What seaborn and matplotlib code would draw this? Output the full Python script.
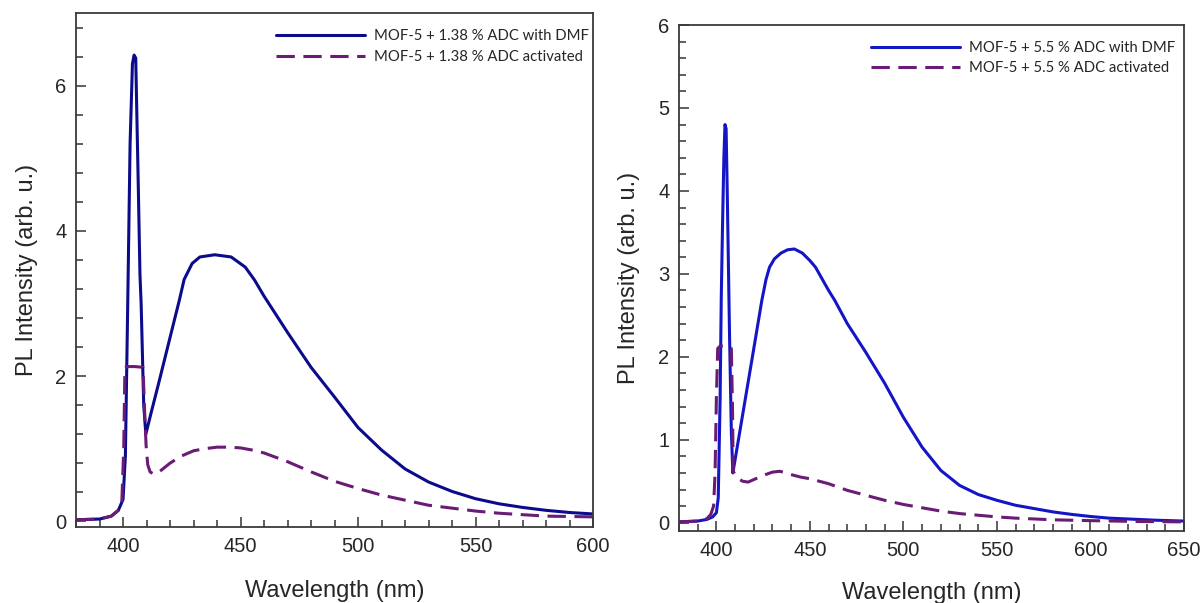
import numpy as np
import pandas as pd
import matplotlib
matplotlib.use("Agg")
import matplotlib.pyplot as plt
from matplotlib.ticker import MultipleLocator
import seaborn as sns

# %% Data (wavelength in nm, PL intensity in arb. u.)
# left panel : MOF-5 + 1.38 % ADC
wl_dmf_a = [380, 390, 395, 398, 400, 401, 402, 403, 404, 404.7, 405.4, 406, 406.5,
            407.2, 407.7, 408.8, 409.7, 412, 415, 420, 424, 426, 429.4, 432.7, 439,
            446, 452, 456, 460, 465, 470, 480, 490, 500, 510, 520, 530, 540, 550,
            560, 570, 580, 590, 600]
dmf_a = [0.02, 0.03, 0.07, 0.15, 0.30, 0.9, 3.0, 5.2, 6.3, 6.42, 6.38, 5.4, 4.6,
         3.4, 3.0, 1.6, 1.2, 1.5, 1.88, 2.53, 3.05, 3.33, 3.55, 3.64, 3.67,
         3.64, 3.5, 3.32, 3.1, 2.85, 2.6, 2.12, 1.71, 1.29, 0.98, 0.72, 0.54,
         0.41, 0.31, 0.24, 0.19, 0.15, 0.12, 0.10]

wl_act_a = [380, 390, 395, 398, 399.5, 400.3, 400.8, 401.5, 405, 408.5, 409.2, 409.8,
            410.5, 411.5, 413, 415, 420, 425, 430, 435, 440, 445, 450, 455, 460,
            470, 480, 490, 500, 510, 520, 530, 540, 550, 560, 570, 580, 590, 600]
act_a = [0.02, 0.03, 0.07, 0.15, 0.28, 1.0, 2.1, 2.13, 2.13, 2.12, 1.5, 1.05,
         0.78, 0.68, 0.65, 0.67, 0.80, 0.90, 0.97, 1.0, 1.02, 1.02, 1.01, 0.98,
         0.94, 0.82, 0.68, 0.55, 0.45, 0.36, 0.29, 0.22, 0.18, 0.14, 0.11, 0.09,
         0.07, 0.065, 0.06]

# right panel : MOF-5 + 5.5 % ADC
wl_dmf_b = [380, 390, 395, 398, 400, 401, 402, 402.6, 403.3, 404, 404.6, 405.2,
            405.8, 406.3, 407, 408, 408.8, 410, 415, 420, 424.3, 426.5, 428.4, 431,
            434.5, 438, 441.7, 446, 450, 453, 457, 460, 463.3, 470, 480, 490, 500,
            510, 520, 530, 540, 550, 560, 570, 580, 590, 600, 610, 620, 635, 650]
dmf_b = [0.01, 0.02, 0.04, 0.07, 0.12, 0.3, 1.5, 2.7, 3.6, 4.4, 4.8, 4.75,
         4.0, 3.3, 2.3, 1.1, 0.6, 0.76, 1.43, 2.1, 2.68, 2.93, 3.08, 3.18,
         3.25, 3.29, 3.30, 3.25, 3.16, 3.08, 2.92, 2.8, 2.68, 2.4, 2.05, 1.68,
         1.27, 0.91, 0.63, 0.45, 0.34, 0.27, 0.21, 0.17, 0.13, 0.10, 0.075,
         0.055, 0.045, 0.03, 0.02]

wl_act_b = [380, 390, 395, 397, 398.5, 399.3, 400, 400.7, 402, 405, 408, 408.6, 409,
            410, 412, 414, 417, 420, 425, 430, 434, 440, 445, 450, 460, 470, 480,
            490, 500, 510, 520, 530, 540, 550, 560, 570, 580, 600, 625, 650]
act_b = [0.01, 0.02, 0.05, 0.1, 0.2, 0.6, 1.5, 2.1, 2.13, 2.13, 2.1, 1.4, 0.62,
         0.58, 0.53, 0.5, 0.49, 0.52, 0.57, 0.61, 0.62, 0.58, 0.55, 0.53, 0.47,
         0.39, 0.33, 0.27, 0.22, 0.18, 0.14, 0.11, 0.09, 0.07, 0.055, 0.045,
         0.035, 0.025, 0.015, 0.01]

labels_a = ["MOF-5 + 1.38 % ADC with DMF", "MOF-5 + 1.38 % ADC activated"]
labels_b = ["MOF-5 + 5.5 % ADC with DMF", "MOF-5 + 5.5 % ADC activated"]

# %% Style
sns.set_style("ticks")
plt.rcParams["font.family"] = ["Liberation Sans", "DejaVu Sans"]

PURPLE = "#6a1b75"
DASH = (0, (6, 2.8))

fig = plt.figure(figsize=(12.03, 6.03), dpi=100)
ax1 = fig.add_axes([0.0632, 0.1260, 0.4298, 0.8524])
ax2 = fig.add_axes([0.5644, 0.1194, 0.4198, 0.8391])

panels = [
    (ax1, wl_dmf_a, dmf_a, wl_act_a, act_a, labels_a, "#0b0b8c",
     (380, 600), (-0.08, 7.0), 2, 0.4, (0.387, 0.968), -0.0735, -0.103),
    (ax2, wl_dmf_b, dmf_b, wl_act_b, act_b, labels_b, "#1515c8",
     (380, 650), (-0.1, 6.0), 1, 0.2, (0.380, 0.969), -0.077, -0.1),
]

for (ax, wx, wy, ax_, ay, labs, blue, xlim, ylim, ymaj, ymin,
     leg_anchor, ylab_x, xlab_y) in panels:
    sns.lineplot(x=wx, y=wy, ax=ax, color=blue, lw=2.2, label=labs[0])
    sns.lineplot(x=ax_, y=ay, ax=ax, color=PURPLE, lw=2.2, linestyle=DASH,
                 label=labs[1])
    ax.set_xlim(*xlim)
    ax.set_ylim(*ylim)
    ax.xaxis.set_major_locator(MultipleLocator(50))
    ax.xaxis.set_minor_locator(MultipleLocator(10))
    ax.yaxis.set_major_locator(MultipleLocator(ymaj))
    ax.yaxis.set_minor_locator(MultipleLocator(ymin))
    ax.tick_params(which="both", direction="in", top=False, right=False,
                   color="#333333", width=1.1, labelsize=14.5)
    ax.tick_params(which="major", length=7)
    ax.tick_params(which="minor", length=5)
    ax.tick_params(axis="x", which="major", pad=7.5)
    ax.tick_params(axis="y", which="major", pad=7)
    for s in ax.spines.values():
        s.set_visible(True)
        s.set_color("#3a3a3a")
        s.set_linewidth(1.3)
    ax.set_xlabel("Wavelength (nm)", fontsize=17)
    ax.set_ylabel("PL Intensity (arb. u.)", fontsize=17)
    ax.yaxis.set_label_coords(ylab_x, 0.5)
    ax.xaxis.set_label_coords(0.5, xlab_y)
    ax.legend(loc="upper left", bbox_to_anchor=leg_anchor, frameon=False,
              borderpad=0, borderaxespad=0, handlelength=6.0,
              handletextpad=0.6, labelspacing=0.43,
              prop={"family": ["Lato", "DejaVu Sans"], "size": 10.7})

fig.savefig("out.png", dpi=100)
